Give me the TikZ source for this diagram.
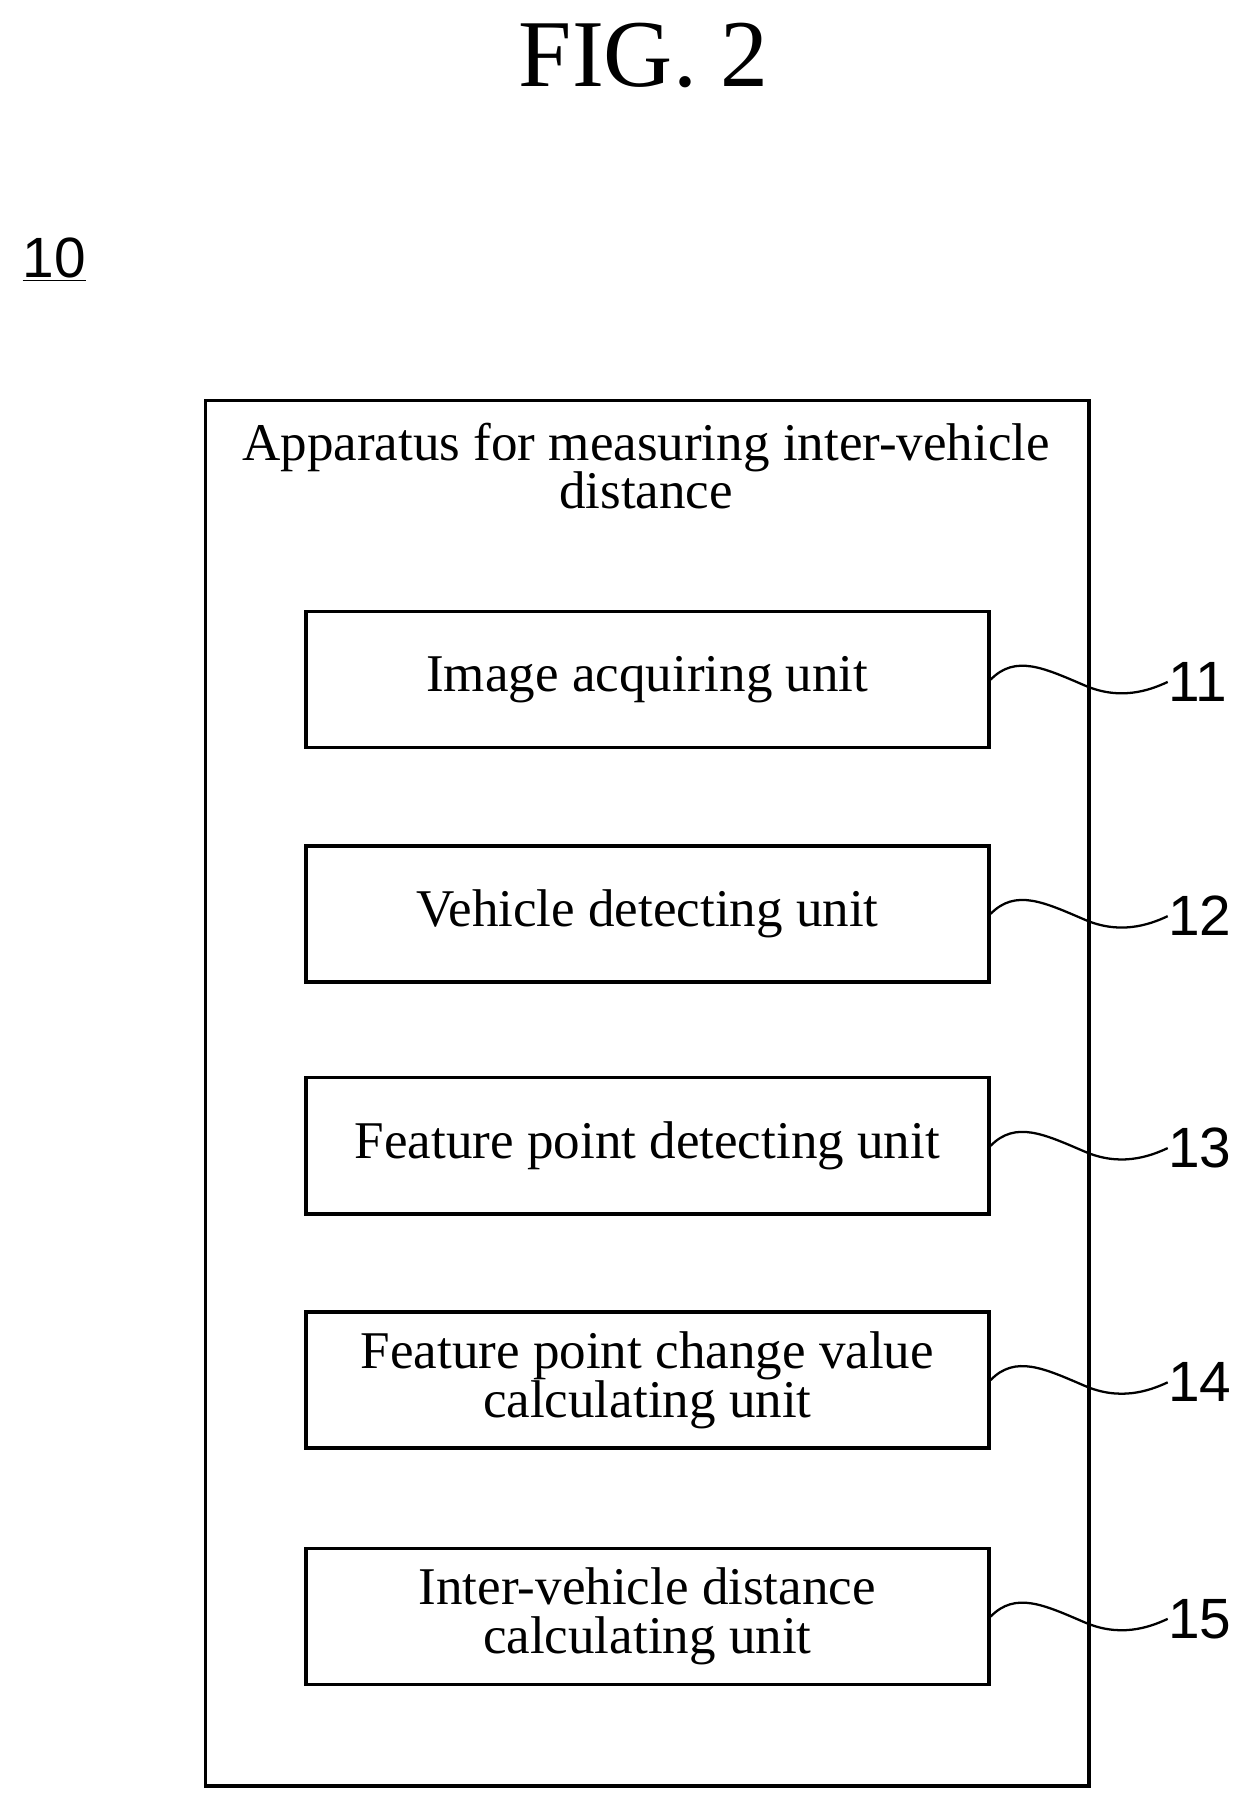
\documentclass[tikz,border=0pt]{standalone}
\usepackage{fontspec}
\setmainfont{Liberation Serif}
\newfontfamily\numfont{Liberation Sans}
\begin{document}
\begin{tikzpicture}[x=0.025cm,y=-0.025cm,
  unit/.style={draw,line width=2.2pt,minimum width=592*0.025cm,minimum height=118*0.025cm,inner sep=0pt,align=center,font=\fontsize{32.7}{30}\selectfont},
  lead/.style={line width=1.4pt},
  num/.style={font=\numfont\fontsize{35}{40}\selectfont,anchor=west,inner sep=0pt}]
\useasboundingbox (0,0) rectangle (1080,1560);
\node (title) at (558,48) {\fontsize{59}{64}\selectfont FIG. 2};
\node[font=\numfont\fontsize{35}{40}\selectfont] (ten) at (47,225) {\underline{10}};
\draw[line width=2.2pt] (178,347) rectangle (944,1548);
\node[align=center,font=\fontsize{32.7}{30}\selectfont] (app) at (560,404) {Apparatus for measuring inter-vehicle\\distance};
\foreach \i/\y/\t in {11/589/{Image acquiring unit},12/792/{Vehicle detecting unit},13/993/{Feature point detecting unit},14/1196/{Feature point change value\\calculating unit},15/1401/{Inter-vehicle distance\\calculating unit}}{
  \node[unit] (u\i) at (561,\y) {\t};
  \node[num] (n\i) at (1012,\y+2) {\i};
  \draw[lead] (u\i.east) .. controls (880,\y-22) and (905,\y-10) .. (940,\y+5) .. controls (970,\y+18) and (995,\y+10) .. (n\i.west);
}
\end{tikzpicture}
\end{document}
